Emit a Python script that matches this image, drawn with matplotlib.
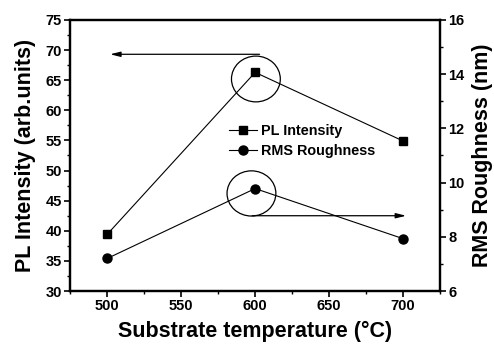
import numpy as np
import matplotlib
matplotlib.use('Agg')
from matplotlib import pyplot as plt
from matplotlib import patches
from matplotlib.ticker import MultipleLocator

# data
temperature = [500, 600, 700]
pl_intensity = [39.4, 66.3, 54.9]
rms_roughness = [7.2, 9.78, 7.93]

plt.rcParams['font.family'] = ['Liberation Sans', 'DejaVu Sans']
plt.rcParams['font.weight'] = 'bold'

fig = plt.figure(figsize=(4.94, 3.44), dpi=100)
ax = fig.add_axes([0.142, 0.154, 0.749, 0.788])
ax2 = ax.twinx()

ax.plot(temperature, pl_intensity, color='k', lw=0.8, marker='s', ms=6,
        label='PL Intensity')
ax2.plot(temperature, rms_roughness, color='k', lw=0.8, marker='o', ms=6.5,
         label='RMS Roughness')

ax.set_xlim(475, 725)
ax.set_ylim(30, 75)
ax2.set_ylim(6, 16)

ax.xaxis.set_major_locator(MultipleLocator(50))
ax.xaxis.set_minor_locator(MultipleLocator(25))
ax.yaxis.set_major_locator(MultipleLocator(5))
ax.yaxis.set_minor_locator(MultipleLocator(2.5))
ax2.yaxis.set_major_locator(MultipleLocator(2))
ax2.yaxis.set_minor_locator(MultipleLocator(1))

for a in (ax, ax2):
    for s in a.spines.values():
        s.set_linewidth(1.6)
    a.tick_params(which='major', direction='out', length=4, width=1.2,
                  labelsize=10.5, pad=2)
    a.tick_params(which='minor', direction='out', length=2.5, width=1.0)
    for lab in a.get_xticklabels() + a.get_yticklabels():
        lab.set_fontweight('bold')

ax.set_xlabel('Substrate temperature (\u00b0C)', fontsize=15.5, fontweight='bold',
              labelpad=5.5)
ax.set_ylabel('PL Intensity (arb.units)', fontsize=15.5, fontweight='bold',
              labelpad=7)
ax2.set_ylabel('RMS Roughness (nm)', fontsize=15.5, fontweight='bold',
               labelpad=5)

# circles around the peak values
ax.add_patch(patches.Ellipse((600.5, 65.2), 33, 7.6, fill=False, lw=0.9,
                             color='k'))
ax.add_patch(patches.Ellipse((597.5, 46.2), 33, 7.5, fill=False, lw=0.9,
                             color='k'))

# arrows pointing to the relevant axis
ax.annotate('', xy=(502, 69.3), xytext=(603, 69.3),
            arrowprops=dict(arrowstyle='-|>,head_length=0.6,head_width=0.15',
                            color='k', lw=0.9, shrinkA=0, shrinkB=0))
ax.annotate('', xy=(702, 42.5), xytext=(598, 42.5),
            arrowprops=dict(arrowstyle='-|>,head_length=0.6,head_width=0.15',
                            color='k', lw=0.9, shrinkA=0, shrinkB=0))

h1, l1 = ax.get_legend_handles_labels()
h2, l2 = ax2.get_legend_handles_labels()
leg = ax.legend(h1 + h2, l1 + l2, loc='center left',
                bbox_to_anchor=(0.395, 0.553), frameon=False,
                handlelength=1.9, handletextpad=0.3, labelspacing=0.45,
                prop={'weight': 'bold', 'size': 10.4})

fig.savefig('out.png', dpi=100)
